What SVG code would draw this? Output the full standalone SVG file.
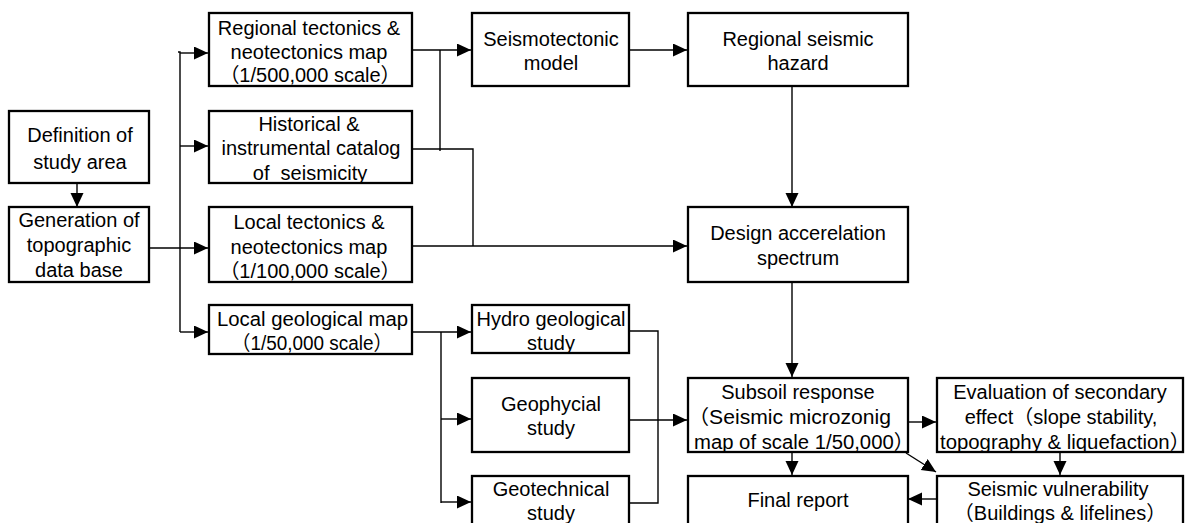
<svg xmlns="http://www.w3.org/2000/svg" width="1189" height="523" viewBox="0 0 1189 523">
<style>
.box{fill:#fff;stroke:#000;stroke-width:2.3}
.t{font-family:"Liberation Sans","Noto Sans CJK JP",sans-serif;font-size:20px;fill:#000;text-anchor:middle}
.s{text-anchor:start}
.c{fill:none;stroke:#000;stroke-width:1.4}
.a{marker-end:url(#ah)}
</style>
<defs>
<marker id="ah" markerUnits="userSpaceOnUse" markerWidth="15" markerHeight="14" refX="14" refY="6.5" orient="auto">
<path d="M0,0 L14,6.5 L0,13 z" fill="#000"/>
</marker>
</defs>
<rect width="1189" height="523" fill="#fff"/>
<g id="connectors">
<path class="c a" d="M77,183 V207"/>
<path class="c" d="M178,52 H180 V332"/>
<path class="c a" d="M180,53 H208"/>
<path class="c a" d="M180,146 H208"/>
<path class="c a" d="M149,248 H208"/>
<path class="c a" d="M180,332 H208"/>
<path class="c a" d="M412,50 H471"/>
<path class="c" d="M440,50 V151"/>
<path class="c" d="M412,149 H473 V246"/>
<path class="c a" d="M410,246 H687"/>
<path class="c a" d="M629,50 H687"/>
<path class="c a" d="M792,86 V207"/>
<path class="c a" d="M792,282 V377"/>
<path class="c a" d="M412,332 H471"/>
<path class="c" d="M441,332 V503"/>
<path class="c a" d="M441,419 H471"/>
<path class="c a" d="M441,502 H471"/>
<path class="c" d="M629,331 H658 V503 H626"/>
<path class="c a" d="M629,420 H687"/>
<path class="c a" d="M792,452 V475"/>
<path class="c a" d="M906,422 H936"/>
<path class="c a" d="M906,453 L936,472"/>
<path class="c a" d="M1060,452 V475"/>
<path class="c a" d="M937,499 H908"/>
</g>
<g id="n-definition">
<rect class="box" x="9" y="111" width="140" height="72"/>
<text class="t" x="80" y="142">Definition of</text>
<text class="t" x="80" y="169">study area</text>
</g>
<g id="n-generation">
<rect class="box" x="9" y="207" width="140" height="75"/>
<text class="t" x="79" y="227">Generation of</text>
<text class="t" x="79" y="252">topographic</text>
<text class="t" x="79" y="277">data base</text>
</g>
<g id="n-regional-tectonics">
<rect class="box" x="209" y="13" width="203" height="73"/>
<text class="t" x="309" y="35">Regional tectonics &amp;</text>
<text class="t" x="309" y="59">neotectonics map</text>
<text class="t" x="310" y="82">（1/500,000 scale）</text>
</g>
<g id="n-historical">
<rect class="box" x="209" y="111" width="203" height="72"/>
<text class="t" x="309" y="131">Historical &amp;</text>
<text class="t" x="311" y="155">instrumental catalog</text>
<text class="t" x="310" y="180" style="white-space:pre">of  seismicity</text>
</g>
<g id="n-local-tectonics">
<rect class="box" x="209" y="207" width="203" height="75"/>
<text class="t" x="309" y="229">Local tectonics &amp;</text>
<text class="t" x="309" y="254">neotectonics map</text>
<text class="t" x="310" y="278">（1/100,000 scale）</text>
</g>
<g id="n-local-geological">
<rect class="box" x="209" y="305" width="203" height="49"/>
<text class="t s" x="217" y="326" textLength="191" lengthAdjust="spacingAndGlyphs">Local geological map</text>
<text class="t" x="312" y="350" textLength="161" lengthAdjust="spacingAndGlyphs">（1/50,000 scale）</text>
</g>
<g id="n-seismotectonic">
<rect class="box" x="472" y="13" width="157" height="73"/>
<text class="t" x="551" y="46">Seismotectonic</text>
<text class="t" x="551" y="70">model</text>
</g>
<g id="n-regional-hazard">
<rect class="box" x="688" y="13" width="220" height="73"/>
<text class="t" x="798" y="46">Regional seismic</text>
<text class="t" x="798" y="70">hazard</text>
</g>
<g id="n-design">
<rect class="box" x="688" y="207" width="220" height="75"/>
<text class="t" x="798" y="240">Design accerelation</text>
<text class="t" x="798" y="265">spectrum</text>
</g>
<g id="n-hydro">
<rect class="box" x="472" y="305" width="157" height="48"/>
<text class="t" x="551" y="326">Hydro geological</text>
<text class="t" x="551" y="350">study</text>
</g>
<g id="n-geophycial">
<rect class="box" x="472" y="378" width="157" height="74"/>
<text class="t" x="551" y="411">Geophycial</text>
<text class="t" x="551" y="435">study</text>
</g>
<g id="n-geotechnical">
<rect class="box" x="472" y="476" width="157" height="60"/>
<text class="t" x="551" y="496">Geotechnical</text>
<text class="t" x="551" y="520">study</text>
</g>
<g id="n-subsoil">
<rect class="box" x="688" y="378" width="220" height="74"/>
<text class="t" x="798" y="399">Subsoil response</text>
<text class="t s" x="688" y="424" textLength="203" lengthAdjust="spacingAndGlyphs">（Seismic microzonig</text>
<text class="t s" x="694" y="449" textLength="220" lengthAdjust="spacingAndGlyphs">map of scale 1/50,000）</text>
</g>
<g id="n-evaluation">
<rect class="box" x="937" y="378" width="246" height="74"/>
<text class="t" x="1060" y="399">Evaluation of secondary</text>
<text class="t" x="1061" y="424">effect（slope stability,</text>
<text class="t s" x="940" y="449" textLength="250" lengthAdjust="spacingAndGlyphs">topography &amp; liquefaction）</text>
</g>
<g id="n-final">
<rect class="box" x="688" y="476" width="220" height="60"/>
<text class="t" x="798" y="507">Final report</text>
</g>
<g id="n-vulnerability">
<rect class="box" x="937" y="476" width="246" height="60"/>
<text class="t" x="1058" y="496">Seismic vulnerability</text>
<text class="t" x="1060" y="520">（Buildings &amp; lifelines）</text>
</g>
</svg>
